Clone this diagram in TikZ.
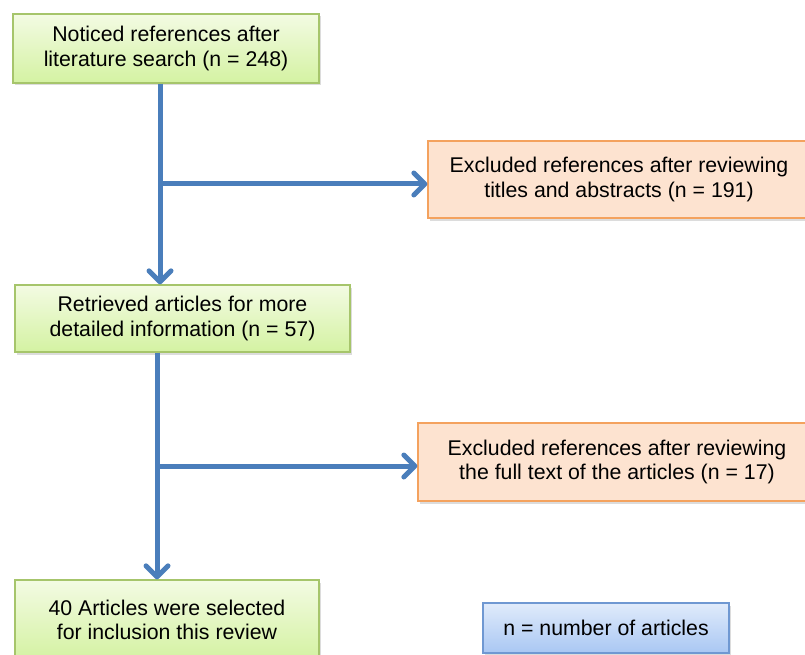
\documentclass[tikz,border=0pt]{standalone}
\usepackage{fontspec}
\setmainfont{Liberation Sans}
\usetikzlibrary{arrows.meta,shadows}
\definecolor{gfillT}{HTML}{F3FBE3}
\definecolor{gfillB}{HTML}{D4F2A2}
\definecolor{gdraw}{HTML}{A6C56B}
\definecolor{ofill}{HTML}{FDE3D0}
\definecolor{odraw}{HTML}{F4A25E}
\definecolor{bfillT}{HTML}{E0EBFB}
\definecolor{bfillB}{HTML}{A9C7F3}
\definecolor{bdraw}{HTML}{6F98D2}
\definecolor{arr}{HTML}{4A7EBB}
\tikzset{
  box/.style={draw, line width=1.3pt, align=center, inner sep=0pt,
    font=\fontsize{21.3}{24.5}\selectfont,
    drop shadow={opacity=0.28, shadow xshift=2pt, shadow yshift=-2.5pt}},
  greenbox/.style={box, draw=gdraw, top color=gfillT, bottom color=gfillB},
  orangebox/.style={box, draw=odraw, fill=ofill},
  bluebox/.style={box, draw=bdraw, top color=bfillT, bottom color=bfillB},
  flowline/.style={draw=arr, line width=5pt},
  flowarrow/.style={flowline, -{Straight Barb[length=11pt, width=22pt, round]}}
}
\begin{document}
\begin{tikzpicture}[x=1pt,y=-1pt]
\useasboundingbox (0,0) rectangle (805,655);
\begin{scope}
\clip (0,0) rectangle (805,655);
\node[greenbox, minimum width=306pt, minimum height=69pt] (b1) at (166,48.5)
  {Noticed references after\\literature search (n = 248)};
\node[orangebox, minimum width=382pt, minimum height=77pt] (b2) at (619,179.5)
  {Excluded references after reviewing\\titles and abstracts (n = 191)};
\node[greenbox, minimum width=335pt, minimum height=67pt] (b3) at (182.5,318.5)
  {Retrieved articles for more\\detailed information (n = 57)};
\node[orangebox, minimum width=398pt, minimum height=78pt] (b4) at (617,462)
  {Excluded references after reviewing\\the full text of the articles (n = 17)};
\node[greenbox, minimum width=304pt, minimum height=80pt] (b5) at (167,620)
  {40 Articles were selected\\for inclusion this review};
\node[bluebox, minimum width=246pt, minimum height=50pt] (b6) at (606,628)
  {n = number of articles};
\end{scope}
\coordinate (j1) at (160,184);
\coordinate (j2) at (157,466);
\draw[flowarrow] (b1.south -| j1) -- (b3.north -| j1);
\draw[flowarrow] (j1) -- (j1 -| b2.west);
\draw[flowarrow] (b3.south -| j2) -- (b5.north -| j2);
\draw[flowarrow] (j2) -- (j2 -| b4.west);
\end{tikzpicture}
\end{document}
